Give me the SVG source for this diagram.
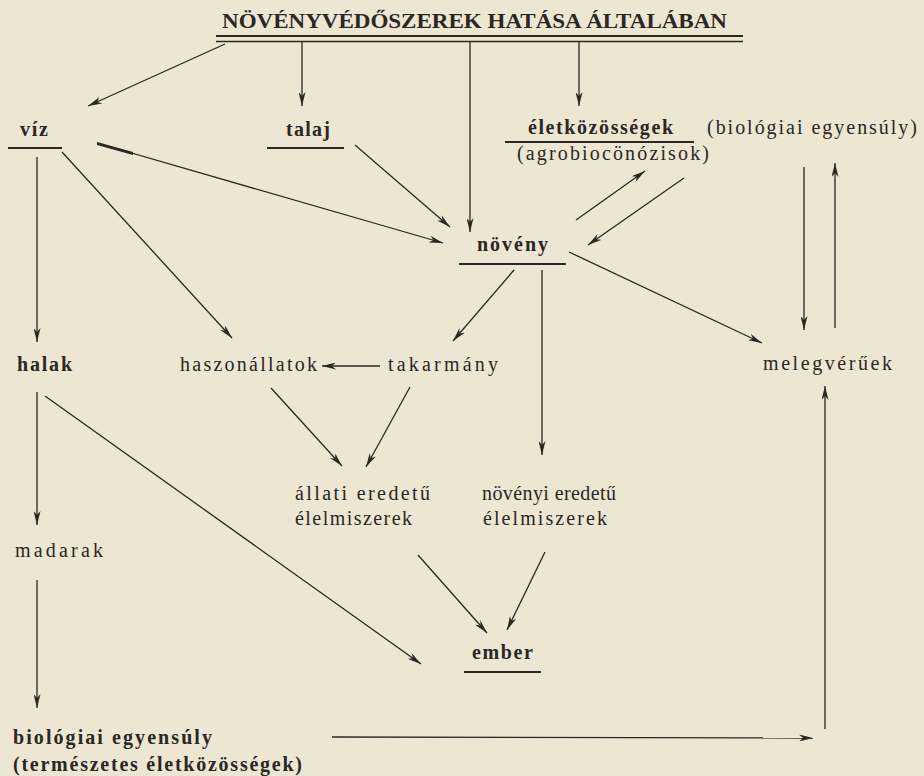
<svg xmlns="http://www.w3.org/2000/svg" width="924" height="776" viewBox="0 0 924 776">
<defs>
<marker id="ah" viewBox="0 0 12 6" refX="12" refY="3" markerWidth="14" markerHeight="7" markerUnits="userSpaceOnUse" orient="auto">
<path d="M0,0 L12,3 L0,6 L3.5,3 z" fill="#2b2723"/>
</marker>
<style>
text{font-family:"Liberation Serif","DejaVu Serif",serif;fill:#2b2723;font-size:20px}
.b{font-weight:bold}
.t{font-weight:bold;font-size:22px}
.ul{stroke:#2b2723;stroke-width:2.2}
.c line{stroke:#2b2723;stroke-width:1.3;marker-end:url(#ah)}
</style>
</defs>
<rect width="924" height="776" fill="#ede6d3"/>
<g id="title">
<text class="t" x="222" y="28" textLength="505" lengthAdjust="spacingAndGlyphs">NÖVÉNYVÉDŐSZEREK HATÁSA ÁLTALÁBAN</text>
<line x1="216" y1="36" x2="743" y2="36" stroke="#2b2723" stroke-width="2.2"/>
<line x1="216" y1="41.5" x2="743" y2="41.5" stroke="#2b2723" stroke-width="1.6"/>
</g>
<g id="viz"><text class="b" x="20" y="136" textLength="28">víz</text><line class="ul" x1="8" y1="148" x2="62" y2="148"/></g>
<g id="talaj"><text class="b" x="286" y="136" textLength="44">talaj</text><line class="ul" x1="267" y1="148" x2="344" y2="148"/></g>
<g id="eletkozossegek">
<text class="b" x="528" y="134" textLength="145">életközösségek</text>
<line class="ul" x1="505" y1="142" x2="694" y2="142"/>
<text x="517" y="160" textLength="192">(agrobiocönózisok)</text>
</g>
<g id="biol1"><text x="707" y="134" textLength="210">(biológiai egyensúly)</text></g>
<g id="noveny"><text class="b" x="477" y="251" textLength="71">növény</text><line class="ul" x1="459" y1="264" x2="566" y2="264"/></g>
<g id="halak"><text class="b" x="17" y="371" textLength="55">halak</text></g>
<g id="haszonallatok"><text x="180" y="371" textLength="137">haszonállatok</text></g>
<g id="takarmany"><text x="388" y="371" textLength="110">takarmány</text></g>
<g id="melegveruek"><text x="763" y="370" textLength="129">melegvérűek</text></g>
<g id="allati"><text x="295" y="500" textLength="135">állati eredetű</text><text x="295" y="525" textLength="117">élelmiszerek</text></g>
<g id="novenyi"><text x="482" y="500" textLength="134">növényi eredetű</text><text x="483" y="525" textLength="124">élelmiszerek</text></g>
<g id="madarak"><text x="15" y="557" textLength="88">madarak</text></g>
<g id="ember"><text class="b" x="472" y="659" textLength="61">ember</text><line class="ul" x1="464" y1="672" x2="541" y2="672"/></g>
<g id="biol2"><text class="b" x="13" y="744" textLength="199">biológiai egyensúly</text><text class="b" x="13" y="771" textLength="289">(természetes életközösségek)</text></g>
<g id="connectors" class="c">
<line x1="225" y1="44" x2="88" y2="106"/>
<line x1="302" y1="42" x2="302" y2="106"/>
<line x1="470" y1="42" x2="470" y2="232"/>
<line x1="579" y1="42" x2="579" y2="106"/>
<line x1="355" y1="145" x2="450" y2="227"/>
<line x1="97" y1="143" x2="443" y2="243"/>
<line x1="37" y1="157" x2="37" y2="342"/>
<line x1="62" y1="152" x2="232" y2="338"/>
<line x1="576" y1="220" x2="645" y2="171"/>
<line x1="684" y1="178" x2="588" y2="245"/>
<line x1="569" y1="252" x2="762" y2="343"/>
<line x1="514" y1="270" x2="453" y2="341"/>
<line x1="542" y1="270" x2="542" y2="455"/>
<line x1="804" y1="167" x2="804" y2="330"/>
<line x1="835" y1="328" x2="835" y2="163"/>
<line x1="380" y1="366" x2="322" y2="366"/>
<line x1="271" y1="388" x2="342" y2="466"/>
<line x1="410" y1="387" x2="366" y2="467"/>
<line x1="37" y1="392" x2="37" y2="525"/>
<line x1="45" y1="396" x2="421" y2="664"/>
<line x1="37" y1="580" x2="37" y2="708"/>
<line x1="418" y1="555" x2="487" y2="633"/>
<line x1="545" y1="552" x2="507" y2="630"/>
<line x1="332" y1="737" x2="813" y2="738"/>
<line x1="825" y1="729" x2="825" y2="386"/>
</g>
<path d="M97,142 L133,152 L133,155 L97,145 z" fill="#2b2723"/>
</svg>
